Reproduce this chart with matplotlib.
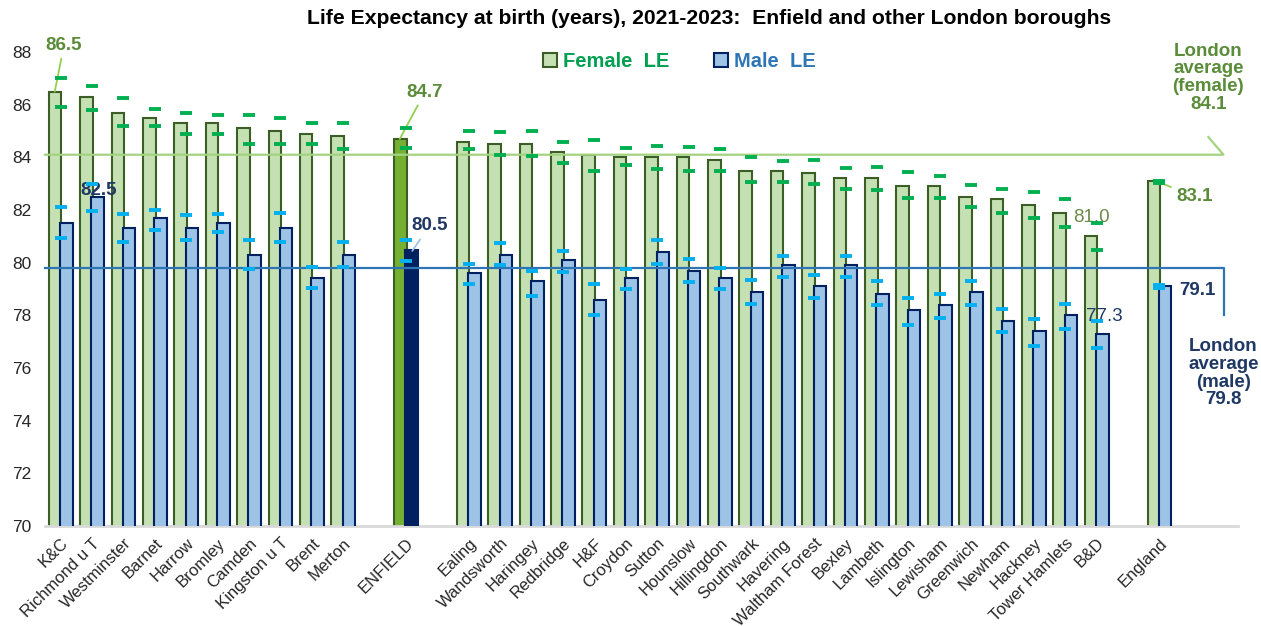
import numpy as np
import matplotlib
matplotlib.use('Agg')
import matplotlib.pyplot as plt
from matplotlib.patches import Patch

plt.rcParams['font.family'] = ['Liberation Sans', 'DejaVu Sans']

# data
areas_top = ["K&C", "Richmond u T", "Westminster", "Barnet", "Harrow", "Bromley",
             "Camden", "Kingston u T", "Brent", "Merton"]
areas_enfield = ["ENFIELD"]
areas_rest = ["Ealing", "Wandsworth", "Haringey", "Redbridge", "H&F", "Croydon", "Sutton",
              "Hounslow", "Hillingdon", "Southwark", "Havering", "Waltham Forest", "Bexley",
              "Lambeth", "Islington", "Lewisham", "Greenwich", "Newham", "Hackney",
              "Tower Hamlets", "B&D"]
areas_england = ["England"]

female = [86.5, 86.3, 85.7, 85.5, 85.3, 85.3, 85.1, 85.0, 84.9, 84.8,
          84.7,
          84.6, 84.5, 84.5, 84.2, 84.1, 84.0, 84.0, 84.0, 83.9, 83.5, 83.5, 83.4,
          83.2, 83.2, 82.9, 82.9, 82.5, 82.4, 82.2, 81.9, 81.0,
          83.1]
female_lo = [85.9, 85.8, 85.2, 85.2, 84.9, 84.9, 84.5, 84.5, 84.5, 84.3,
             84.35,
             84.3, 84.1, 84.05, 83.8, 83.5, 83.7, 83.55, 83.5, 83.5, 83.05, 83.05, 83.0,
             82.8, 82.75, 82.45, 82.45, 82.1, 81.9, 81.7, 81.35, 80.5,
             83.03]
female_hi = [87.0, 86.7, 86.25, 85.85, 85.7, 85.6, 85.6, 85.5, 85.3, 85.3,
             85.1,
             85.0, 84.95, 85.0, 84.6, 84.65, 84.35, 84.45, 84.4, 84.3, 84.0, 83.85, 83.9,
             83.6, 83.65, 83.45, 83.3, 82.95, 82.8, 82.7, 82.4, 81.5,
             83.12]

male = [81.5, 82.5, 81.3, 81.7, 81.3, 81.5, 80.3, 81.3, 79.4, 80.3,
        80.5,
        79.6, 80.3, 79.3, 80.1, 78.6, 79.4, 80.4, 79.7, 79.4, 78.9, 79.9, 79.1,
        79.9, 78.8, 78.2, 78.4, 78.9, 77.8, 77.4, 78.0, 77.3,
        79.1]
male_lo = [80.95, 81.95, 80.8, 81.25, 80.85, 81.15, 79.75, 80.8, 79.05, 79.85,
           80.05,
           79.2, 79.9, 78.75, 79.65, 78.0, 79.0, 79.95, 79.25, 79.0, 78.45, 79.45, 78.65,
           79.45, 78.4, 77.65, 77.9, 78.4, 77.35, 76.85, 77.5, 76.75,
           79.05]
male_hi = [82.1, 83.0, 81.85, 82.0, 81.8, 81.85, 80.85, 81.9, 79.85, 80.8,
           80.85,
           79.95, 80.75, 79.7, 80.45, 79.2, 79.75, 80.85, 80.15, 79.8, 79.35, 80.25, 79.55,
           80.25, 79.3, 78.65, 78.8, 79.3, 78.25, 77.85, 78.45, 77.8,
           79.15]

london_female = 84.1
london_male = 79.8

# x positions: one empty slot between the groups
groups = [areas_top, areas_enfield, areas_rest, areas_england]
labels, xpos = [], []
pos = 0
for g in groups:
    for name in g:
        labels.append(name)
        xpos.append(pos)
        pos += 1
    pos += 1
xpos = np.array(xpos, dtype=float)
enf = labels.index("ENFIELD")
bd = labels.index("B&D")
eng = labels.index("England")

F_FILL, F_EDGE = "#c5e0b3", "#3b5e26"
M_FILL, M_EDGE = "#9dc3e6", "#002060"
GREEN_TXT = "#5b8c3a"
NAVY_TXT = "#1f3864"
LBL = 13.5

fig = plt.figure(figsize=(12.61, 6.26), dpi=100)
ax = fig.add_axes([0.0357, 0.1597, 0.946, 0.7572])

ffill = [F_FILL] * len(labels)
mfill = [M_FILL] * len(labels)
ffill[enf] = "#76b033"
mfill[enf] = "#002060"

off, w = 0.18, 0.40
ax.bar(xpos - off, female, width=w, color=ffill, edgecolor=F_EDGE, linewidth=1.5, zorder=2)
ax.bar(xpos + off, male, width=w, color=mfill, edgecolor=M_EDGE, linewidth=1.5, zorder=3)

# confidence interval dashes
for lo, hi, c in [(female_lo, female_hi, "#00b050"), (male_lo, male_hi, "#00b0f0")]:
    ax.plot(xpos, lo, ls="none", marker="_", ms=8.5, mew=2.8, color=c, zorder=5)
    ax.plot(xpos, hi, ls="none", marker="_", ms=8.5, mew=2.8, color=c, zorder=5)

# London average lines
xend = 37.04
ax.plot([-0.5, xend, 36.56], [london_female, london_female, 84.77], color="#a3d37f",
        lw=1.6, zorder=4, clip_on=False)
ax.plot([-0.5, xend + 0.03, xend + 0.03], [london_male, london_male, 78.0], color="#2e75b6",
        lw=1.6, zorder=4, clip_on=False)

ax.text(36.56, 87.03, "London\naverage\n(female)\n%.1f" % london_female, ha="center", va="center",
        color=GREEN_TXT, fontsize=13.5, fontweight="bold", linespacing=1.05)
ax.text(37.04, 75.8, "London\naverage\n(male)\n%.1f" % london_male, ha="center", va="center",
        color=NAVY_TXT, fontsize=13.5, fontweight="bold", linespacing=1.05)

# data labels
ax.annotate("%.1f" % female[0], xy=(xpos[0] - 0.19, female[0]), xytext=(xpos[0] + 0.1, 88.23),
            ha="center", va="center", color=GREEN_TXT, fontsize=LBL, fontweight="bold",
            annotation_clip=False,
            arrowprops=dict(arrowstyle="-", color="#92d050", lw=1.3, shrinkA=1, shrinkB=0))
ax.text(xpos[1] + 0.21, 82.76, "%.1f" % male[1], ha="center", va="center", color=NAVY_TXT,
        fontsize=LBL, fontweight="bold")
ax.annotate("%.1f" % female[enf], xy=(xpos[enf] - 0.2, female[enf]), xytext=(xpos[enf] + 0.59, 86.45),
            ha="center", va="center", color=GREEN_TXT, fontsize=LBL, fontweight="bold",
            arrowprops=dict(arrowstyle="-", color="#92d050", lw=1.3, shrinkA=1, shrinkB=0))
ax.annotate("%.1f" % male[enf], xy=(xpos[enf] + 0.2, male[enf] - 0.05), xytext=(xpos[enf] + 0.75, 81.4),
            ha="center", va="center", color=NAVY_TXT, fontsize=LBL, fontweight="bold",
            arrowprops=dict(arrowstyle="-", color="#9dc3e6", lw=1.3, shrinkA=2, shrinkB=0))
ax.text(xpos[bd] - 0.17, 81.71, "%.1f" % female[bd], ha="center", va="center", color="#6b8a4a",
        fontsize=LBL)
ax.text(xpos[bd] + 0.25, 77.97, "%.1f" % male[bd], ha="center", va="center", color=NAVY_TXT,
        fontsize=LBL)
ax.annotate("%.1f" % female[eng], xy=(xpos[eng] - 0.1, female[eng]), xytext=(xpos[eng] + 0.54, 82.51),
            ha="left", va="center", color=GREEN_TXT, fontsize=LBL, fontweight="bold",
            arrowprops=dict(arrowstyle="-", color="#92d050", lw=1.3, shrinkA=2, shrinkB=0))
ax.text(xpos[eng] + 0.64, 78.94, "%.1f" % male[eng], ha="left", va="center", color=NAVY_TXT,
        fontsize=LBL, fontweight="bold")

ax.set_xlim(-0.5, 37.5)
ax.set_ylim(70, 88)
ax.set_yticks(np.arange(70, 89, 2))
ax.set_xticks(xpos)
ax.set_xticklabels(labels, rotation=45, ha="right", rotation_mode="anchor", fontsize=12)
ax.tick_params(axis="y", labelsize=12.5, length=0, pad=10, labelcolor="#262626")
ax.tick_params(axis="x", length=0, pad=7, labelcolor="#262626")
for s in ["left", "right", "top"]:
    ax.spines[s].set_visible(False)
ax.spines["bottom"].set_color("#d9d9d9")
ax.spines["bottom"].set_linewidth(2)

handles = [Patch(facecolor=F_FILL, edgecolor=F_EDGE, linewidth=1.5),
           Patch(facecolor=M_FILL, edgecolor=M_EDGE, linewidth=1.5)]
leg = ax.legend(handles, ["Female  LE", "Male  LE"], loc="center", bbox_to_anchor=(0.532, 0.979),
                ncol=2, frameon=False, handlelength=0.7, handleheight=0.7, handletextpad=0.3,
                columnspacing=2.2, prop={"size": 14.5, "weight": "bold"})
for t, c in zip(leg.get_texts(), ["#00a050", "#2e75b6"]):
    t.set_color(c)

fig.text(0.562, 0.97, "Life Expectancy at birth (years), 2021-2023:  Enfield and other London boroughs",
         ha="center", va="center", fontsize=15.2, fontweight="bold", color="#000000")

fig.savefig("out.png", dpi=100)
